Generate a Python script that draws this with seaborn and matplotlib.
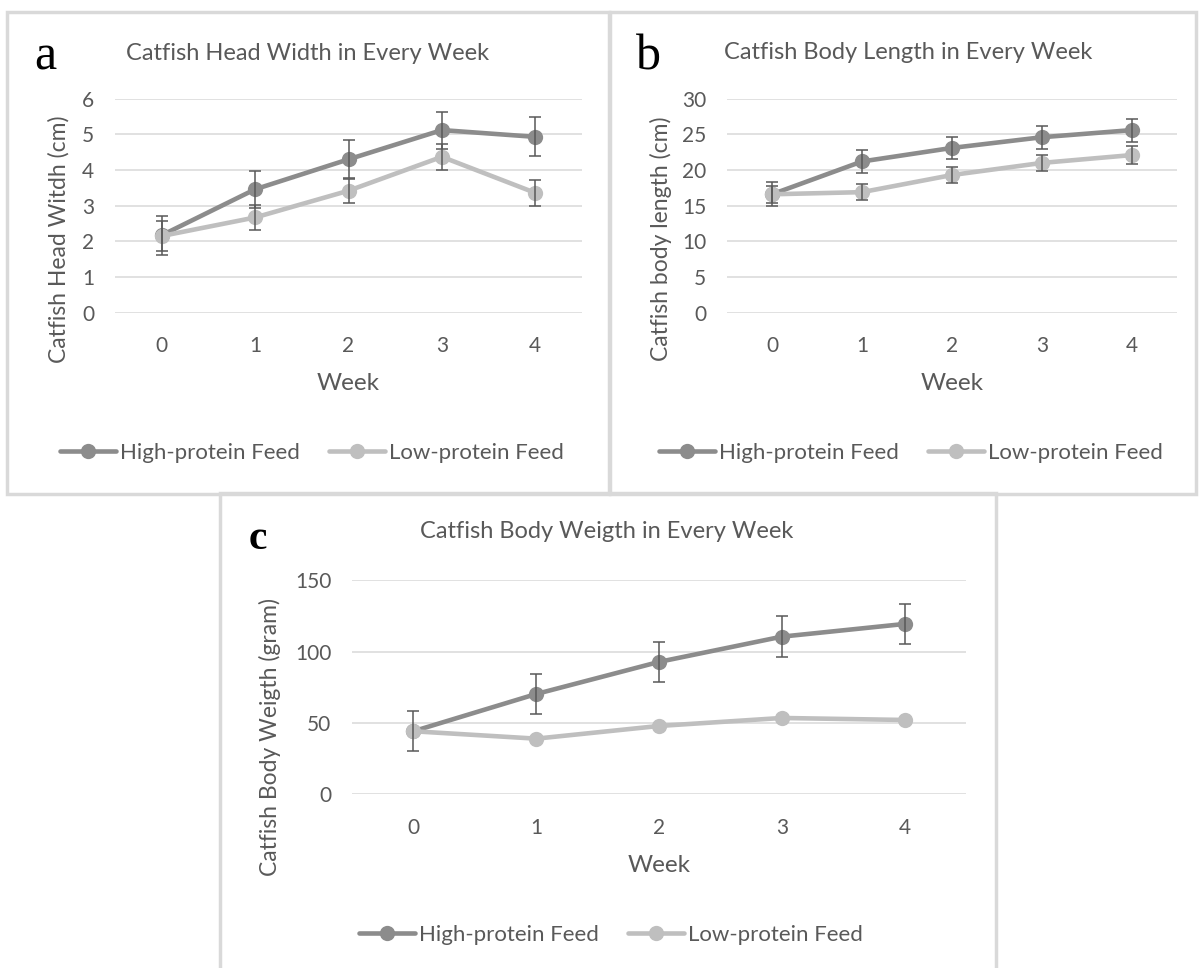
import pandas as pd
import seaborn as sns
import matplotlib.pyplot as plt
from matplotlib.patches import Rectangle

# data
weeks = [0, 1, 2, 3, 4]
groups = ['High-protein Feed', 'Low-protein Feed']

head_high = [2.17, 3.46, 4.30, 5.12, 4.93]
head_high_err = [0.54, 0.52, 0.53, 0.52, 0.55]
head_low = [2.15, 2.67, 3.42, 4.37, 3.36]
head_low_err = [0.42, 0.34, 0.34, 0.37, 0.37]

length_high = [16.6, 21.2, 23.1, 24.6, 25.6]
length_high_err = [1.7, 1.6, 1.6, 1.6, 1.6]
length_low = [16.6, 16.9, 19.3, 21.0, 22.1]
length_low_err = [1.2, 1.15, 1.15, 1.1, 1.2]

weight_high = [44.2, 70.3, 92.8, 110.5, 119.4]
weight_high_err = [14.0, 14.0, 14.0, 14.3, 14.2]
weight_low = [44.2, 39.0, 47.9, 53.5, 52.1]

sns.set_theme(style='white')
plt.rcParams['font.family'] = ['Lato', 'DejaVu Sans']

W, H = 1201, 968
HI_COL = '#8c8c8c'
LO_COL = '#bfbfbf'
TXT = '#595959'
GRID = '#d9d9d9'

fig = plt.figure(figsize=(W / 100, H / 100), dpi=100)


def box(l, t, r, b):
    return [l / W, 1 - b / H, (r - l) / W, (b - t) / H]


def fx(x):
    return x / W


def fy(y):
    return 1 - y / H


def panel(rect, frame, high, high_err, low, low_err, ylim, ystep,
          title, title_xy, ylabel, ylab_pos, letter, letter_xy, letter_kw,
          week_y, legend_xy):
    # frame around the chart
    l, t, r, b = frame
    fig.patches.append(Rectangle((fx(l), fy(b)), (r - l) / W, (b - t) / H,
                                 transform=fig.transFigure, fill=False,
                                 edgecolor=GRID, linewidth=2.5, zorder=0))
    ax = fig.add_axes(box(*rect))
    df = pd.DataFrame({
        'week': weeks * 2,
        'value': high + low,
        'group': [groups[0]] * 5 + [groups[1]] * 5,
    })
    sns.lineplot(data=df, x='week', y='value', hue='group',
                 palette=[HI_COL, LO_COL], marker='o', markersize=11,
                 markeredgewidth=0, linewidth=3.3, ax=ax, legend=False,
                 zorder=3)
    handles = list(ax.get_lines())
    ax.errorbar(weeks, high, yerr=high_err, fmt='none', ecolor=TXT,
                elinewidth=1.1, capsize=4.3, capthick=1.1, zorder=4)
    if low_err is not None:
        ax.errorbar(weeks, low, yerr=low_err, fmt='none', ecolor=TXT,
                    elinewidth=1.1, capsize=4.3, capthick=1.1, zorder=4)

    ax.set_xlim(-0.5, 4.5)
    ax.set_ylim(*ylim)
    ax.set_xticks(weeks)
    ax.set_yticks(range(ylim[0], ylim[1] + 1, ystep))
    ax.yaxis.grid(True, color=GRID, linewidth=1.1)
    ax.set_axisbelow(True)
    sns.despine(ax=ax, left=True, bottom=True)
    ax.tick_params(axis='both', length=0, labelsize=15, labelcolor=TXT)
    ax.tick_params(axis='x', pad=17)
    ax.tick_params(axis='y', pad=15)

    ax.set_xlabel('Week', fontsize=17.5, color=TXT)
    ax.xaxis.set_label_coords(0.5, (rect[3] - week_y) / (rect[3] - rect[1]))
    ax.xaxis.label.set_va('center')
    ax.set_ylabel(ylabel, fontsize=16.5, color=TXT)
    ax.yaxis.set_label_coords(*ylab_pos)
    ax.yaxis.label.set_va('center')

    fig.text(fx(title_xy[0]), fy(title_xy[1]), title, ha='center',
             va='baseline', fontsize=17, color=TXT)
    fig.text(fx(letter_xy[0]), fy(letter_xy[1]), letter, ha='center',
             va='baseline', color='black', family='Liberation Serif',
             **letter_kw)

    fig.legend(handles, groups, loc='center',
               bbox_to_anchor=(fx(legend_xy[0]), fy(legend_xy[1])),
               ncol=2, frameon=False, fontsize=16, labelcolor=TXT,
               handlelength=2.5, handletextpad=0.2, columnspacing=1.3,
               numpoints=1)
    return ax


# a
panel((115, 98.7, 582, 312.7), (7, 12, 609, 494),
      head_high, head_high_err, head_low, head_low_err, (0, 6), 1,
      'Catfish Head Width in Every Week', (308, 60),
      'Catfish Head Witdh (cm)', (-0.12, 0.344),
      'a', (45, 70), dict(fontsize=36),
      383, (312, 453))

# b
panel((727, 98.7, 1177, 312.7), (610, 12, 1196, 494),
      length_high, length_high_err, length_low, length_low_err, (0, 30), 5,
      'Catfish Body Length in Every Week', (908, 59),
      'Catfish body length (cm)', (-0.146, 0.344),
      'b', (648, 70), dict(fontsize=36),
      383, (911, 453))

# c
panel((352, 580.3, 966, 794.3), (220, 493, 996, 972),
      weight_high, weight_high_err, weight_low, None, (0, 150), 50,
      'Catfish Body Weigth in Every Week', (607, 538),
      'Catfish Body Weigth (gram)', (-0.134, 0.268),
      'c', (258, 549), dict(fontsize=30, fontweight='bold'),
      866, (611, 935))

fig.savefig('out.png', dpi=100, facecolor='white')
